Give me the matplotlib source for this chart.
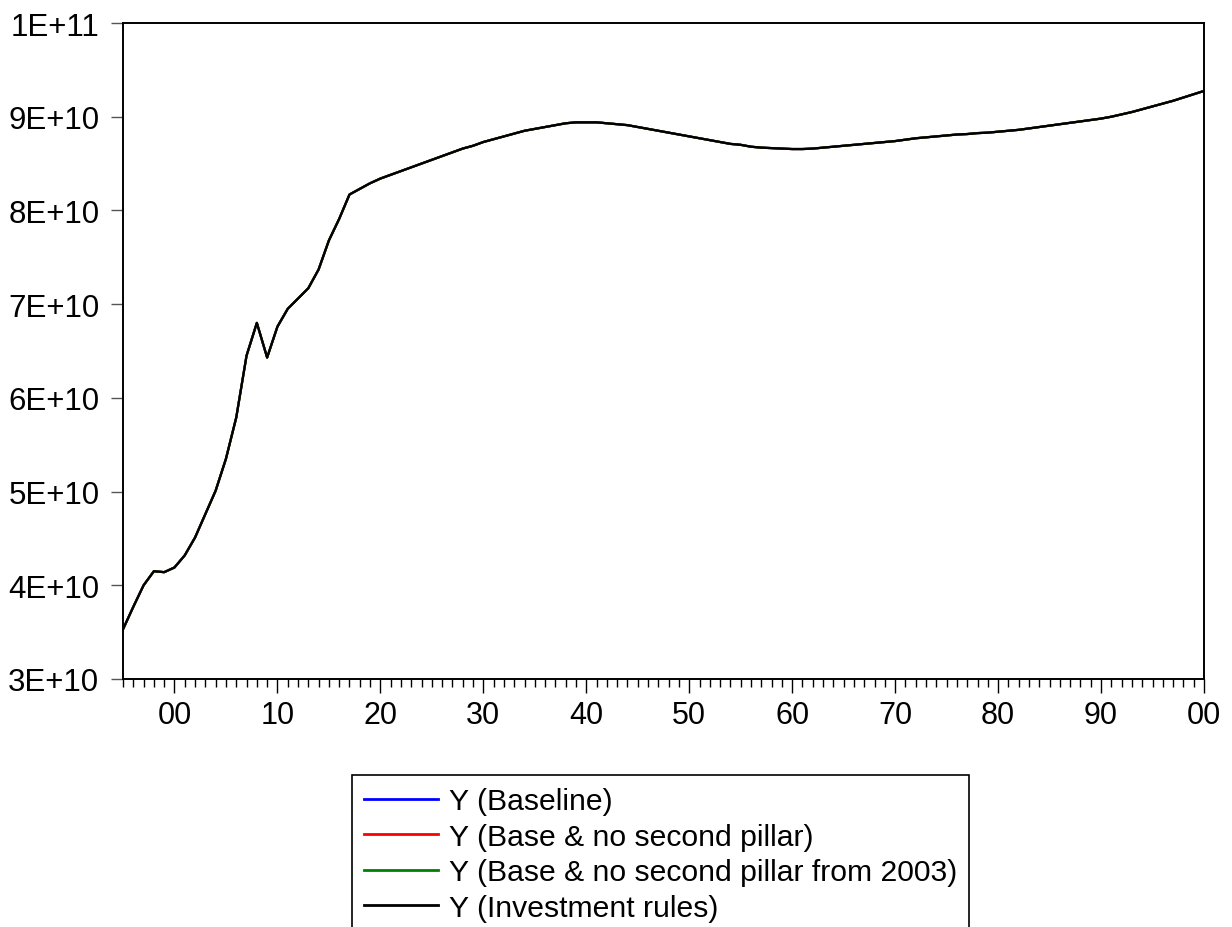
import numpy as np
import matplotlib
matplotlib.use("Agg")
import matplotlib.pyplot as plt
from matplotlib.ticker import FixedLocator, FuncFormatter

plt.rcParams['font.family'] = ['Liberation Sans', 'DejaVu Sans']

# annual output Y, 1995-2100 (units of 1E+10)
years = np.arange(1995, 2101)
y_e10 = [
    3.53, 3.77, 4.00, 4.15, 4.14, 4.19, 4.32, 4.51, 4.76, 5.01,      # 1995-2004
    5.35, 5.79, 6.45, 6.80, 6.43, 6.76, 6.95, 7.06, 7.17, 7.37,      # 2005-2014
    7.68, 7.91, 8.17, 8.23, 8.29, 8.34, 8.38, 8.42, 8.46, 8.50,      # 2015-2024
    8.54, 8.58, 8.62, 8.66, 8.69, 8.73, 8.76, 8.79, 8.82, 8.85,      # 2025-2034
    8.87, 8.89, 8.91, 8.93, 8.94, 8.94, 8.94, 8.93, 8.92, 8.91,      # 2035-2044
    8.89, 8.87, 8.85, 8.83, 8.81, 8.79, 8.77, 8.75, 8.73, 8.71,      # 2045-2054
    8.70, 8.68, 8.67, 8.665, 8.66, 8.655, 8.655, 8.66, 8.67, 8.68,   # 2055-2064
    8.69, 8.70, 8.71, 8.72, 8.73, 8.74, 8.755, 8.77, 8.78, 8.79,     # 2065-2074
    8.80, 8.81, 8.815, 8.825, 8.83, 8.84, 8.85, 8.86, 8.875, 8.89,   # 2075-2084
    8.905, 8.92, 8.935, 8.95, 8.965, 8.98, 9.00, 9.025, 9.05, 9.08,  # 2085-2094
    9.11, 9.14, 9.17, 9.205, 9.24, 9.275,                            # 2095-2100
]
y_baseline = np.array(y_e10) * 1e10
y_no_pillar = y_baseline.copy()
y_no_pillar_2003 = y_baseline.copy()
y_invest = y_baseline.copy()

labels = ["Y (Baseline)", "Y (Base & no second pillar)",
          "Y (Base & no second pillar from 2003)", "Y (Investment rules)"]
series = [y_baseline, y_no_pillar, y_no_pillar_2003, y_invest]
colors = ["#0000ff", "#ff0000", "#008000", "#000000"]

fig = plt.figure(figsize=(12.32, 9.28), dpi=100)
ax = fig.add_axes([123 / 1232, 1 - 680 / 928, (1204 - 123) / 1232, (680 - 24) / 928])

for s, c, lab in zip(series, colors, labels):
    ax.plot(years, s, color=c, lw=1.6, label=lab)

ax.set_xlim(1995, 2100)
ax.set_ylim(3e10, 1e11)

ax.xaxis.set_major_locator(FixedLocator(np.arange(2000, 2101, 10)))
ax.xaxis.set_minor_locator(FixedLocator(np.arange(1995, 2101, 1)))
ax.xaxis.set_major_formatter(FuncFormatter(lambda v, p: "%02d" % (int(round(v)) % 100)))
ax.yaxis.set_major_locator(FixedLocator(np.arange(3e10, 1.01e11, 1e10)))
ax.yaxis.set_major_formatter(FuncFormatter(lambda v, p: "%.0E" % v))

ax.tick_params(axis='x', which='major', length=10, width=1, direction='out', pad=5, labelsize=22)
ax.tick_params(axis='x', which='minor', length=5.5, width=1, direction='out')
ax.tick_params(axis='y', which='major', length=9, width=1, direction='out', pad=8,
               labelsize=22.5, color='#555555')
for sp in ax.spines.values():
    sp.set_linewidth(1.4)
    sp.set_color('black')

leg = fig.legend(loc='upper left', bbox_to_anchor=(352 / 1232, 1 - 776 / 928),
                 fontsize=21.7, frameon=True, fancybox=False, framealpha=1,
                 edgecolor='black', handlelength=2.45, handletextpad=0.37,
                 labelspacing=0.25, borderpad=0.4, borderaxespad=0)
leg.get_frame().set_linewidth(1.2)
for ln in leg.get_lines():
    ln.set_linewidth(2.0)

fig.savefig("out.png", dpi=100)
